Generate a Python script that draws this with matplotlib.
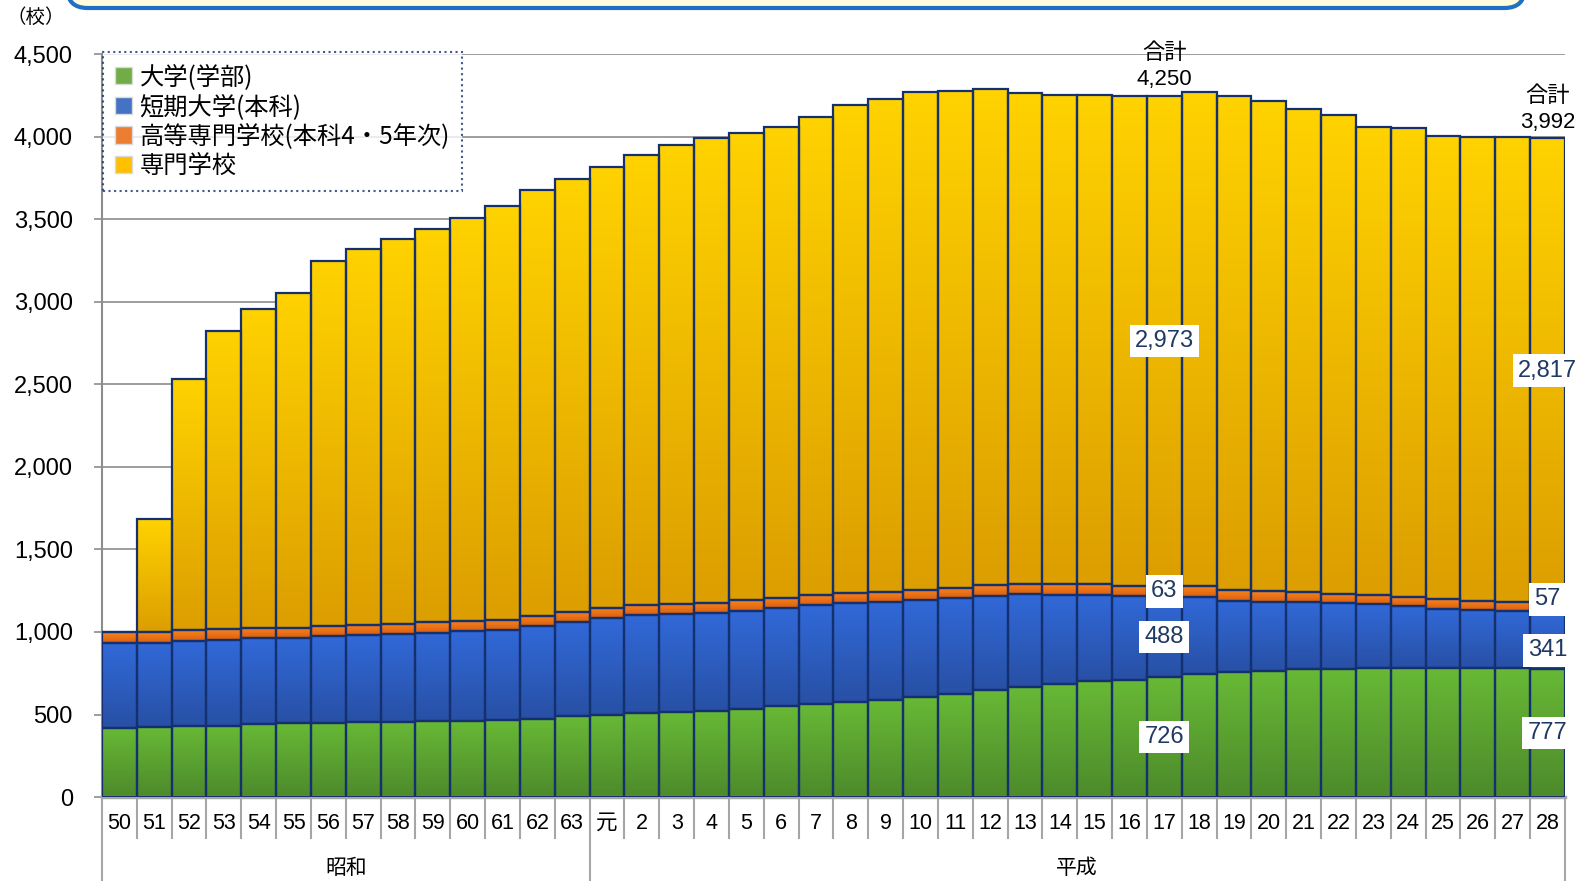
import numpy as np
import matplotlib
matplotlib.use("Agg")
import matplotlib.pyplot as plt
import matplotlib.transforms as mtransforms
from matplotlib.colors import LinearSegmentedColormap
from matplotlib.patches import Patch, FancyBboxPatch
from matplotlib.ticker import MultipleLocator, FuncFormatter

plt.rcParams['font.family'] = ['Liberation Sans', 'Noto Sans CJK JP']

# 年度 (昭和50～63, 平成元～28)
years = ['50', '51', '52', '53', '54', '55', '56', '57', '58', '59', '60', '61', '62', '63',
         '元', '2', '3', '4', '5', '6', '7', '8', '9', '10', '11', '12', '13', '14',
         '15', '16', '17', '18', '19', '20', '21', '22', '23', '24', '25', '26', '27', '28']
eras = ['昭和', '平成']
era_len = [14, 28]

# 学校数
univ = [420, 423, 431, 433, 443, 446, 451, 455, 457, 460, 460, 465, 474, 490,
        499, 507, 514, 523, 534, 552, 565, 576, 586, 604, 622, 649, 669, 686,
        702, 709, 726, 744, 756, 765, 773, 778, 780, 783, 782, 781, 779, 777]
junior = [513, 511, 515, 519, 518, 517, 523, 526, 532, 536, 543, 548, 561, 571,
          584, 593, 592, 591, 595, 593, 596, 598, 595, 588, 585, 572, 559, 541,
          525, 508, 488, 468, 434, 417, 406, 395, 387, 372, 359, 352, 346, 341]
kosen = [65, 65, 65, 65, 65, 62, 62, 62, 62, 62, 62, 62, 62, 62,
         62, 62, 63, 63, 62, 62, 62, 62, 62, 62, 62, 62, 62, 62,
         63, 63, 63, 64, 64, 64, 64, 58, 57, 57, 57, 57, 57, 57]
senmon = [0, 684, 1519, 1806, 1931, 2030, 2214, 2280, 2327, 2381, 2441, 2504, 2580, 2621,
          2672, 2728, 2782, 2817, 2833, 2854, 2899, 2959, 2983, 3020, 3011, 3004, 2978, 2967,
          2962, 2966, 2973, 2996, 2994, 2969, 2926, 2903, 2836, 2844, 2809, 2811, 2819, 2817]

names = ['大学(学部)', '短期大学(本科)', '高等専門学校(本科4・5年次)', '専門学校']
legend_colors = ['#70ad47', '#4472c4', '#ed7d31', '#ffc000']
grad_colors = [('#4d8a2b', '#68b936'), ('#2850a5', '#3169d8'),
               ('#dc5e0e', '#f7851f'), ('#dc9e00', '#ffd200')]
edge = '#14306e'
navy = '#1f3864'

fig = plt.figure(figsize=(15.79, 8.81), dpi=100)
ax = fig.add_axes([0.0646, 0.0953, 0.9265, 0.8431])

n = len(years)
x = np.arange(n)


def fill_gradient(bars, c_bottom, c_top):
    cmap = LinearSegmentedColormap.from_list('g', [c_bottom, c_top])
    grad = np.linspace(0, 1, 128).reshape(-1, 1)
    for b in bars:
        h = b.get_height()
        if h <= 0:
            continue
        x0, y0 = b.get_x(), b.get_y()
        im = ax.imshow(grad, cmap=cmap, origin='lower', aspect='auto',
                       extent=(x0, x0 + b.get_width(), y0, y0 + h),
                       zorder=2.5, interpolation='bilinear')
        im.set_clip_path(b)


series = [univ, junior, kosen, senmon]
bottom = np.zeros(n)
for vals, (c0, c1) in zip(series, grad_colors):
    vals = np.array(vals)
    bars = ax.bar(x, vals, width=1.0, bottom=bottom, color=c1, linewidth=0, zorder=2)
    fill_gradient(bars, c0, c1)
    ax.bar(x, vals, width=1.0, bottom=bottom, fill=False, edgecolor=edge,
           linewidth=1.6, zorder=3)
    bottom += vals
totals = bottom

ax.set_xlim(-0.5, n - 0.5)
ax.set_ylim(0, 4500)
ax.yaxis.set_major_locator(MultipleLocator(500))
ax.yaxis.set_major_formatter(FuncFormatter(lambda v, p: f'{int(v):,}'))
ax.yaxis.grid(True, color='#8c8c8c', linewidth=1.2)
ax.set_axisbelow(True)
ax.tick_params(axis='y', labelsize=17, length=6, width=1.2, color='#8c8c8c', pad=15)

ax.set_xticks(x, years)
ax.tick_params(axis='x', labelsize=15.5, length=0, pad=11.5)

for s in ['top', 'right']:
    ax.spines[s].set_visible(False)
ax.spines['bottom'].set_color('#a6a6a6')
ax.spines['bottom'].set_linewidth(2.5)
ax.spines['left'].set_color('#8c8c8c')
ax.spines['left'].set_linewidth(1.5)

# 区切り線 (2段の横軸)
trans = mtransforms.blended_transform_factory(ax.transData, ax.transAxes)
bounds = np.cumsum([0] + era_len) - 0.5
for b in np.arange(n + 1) - 0.5:
    depth = -0.1131 if b in bounds else -0.0552
    ax.plot([b, b], [0, depth], transform=trans, color='#a6a6a6', lw=1.5,
            clip_on=False, zorder=1)
for era, lo, hi in zip(eras, bounds[:-1], bounds[1:]):
    ax.text((lo + hi) / 2, -0.096, era, transform=trans, ha='center', va='center',
            fontsize=15)

# データラベル
def seg_labels(i, offsets):
    base = 0
    for vals, off in zip(series, offsets):
        v = vals[i]
        ax.annotate(f'{v:,}', (i, base + v / 2), xytext=(0, off), textcoords='offset points',
                    ha='center', va='center', fontsize=17, color=navy, zorder=5,
                    bbox=dict(boxstyle='square,pad=0.22', fc='white', ec='none'),
                    annotation_clip=False)
        base += v


seg_labels(30, [0, 0, 0, 0])
seg_labels(41, [0, -7, 6, 0])

for i in [30, 41]:
    ax.annotate(f'合計\n{int(totals[i]):,}', (i, totals[i]), xytext=(0, 4),
                textcoords='offset points', ha='center', va='bottom', fontsize=16,
                linespacing=1.3, annotation_clip=False)

handles = [Patch(facecolor=c, edgecolor='#d9d9d9') for c in legend_colors]
leg = ax.legend(handles, names, loc='upper left', bbox_to_anchor=(0.0005, 1.003),
                prop={'family': ['Noto Sans CJK JP'], 'size': 17.5},
                frameon=True, fancybox=False, edgecolor=edge,
                handlelength=0.72, handleheight=0.72, handletextpad=0.3,
                labelspacing=0.15, borderpad=0.5, borderaxespad=0)
leg.get_frame().set_linestyle(':')
leg.get_frame().set_linewidth(1.5)
leg.set_zorder(6)

fig.text(0.004, 1 - 18 / 881, '（校）', fontsize=14, va='center', ha='left')

top_box = FancyBboxPatch((67 / 1579, 1 - 8 / 881), (1525 - 67) / 1579, 0.1,
                         boxstyle='round,pad=0,rounding_size=0.013',
                         mutation_aspect=1579 / 881, transform=fig.transFigure,
                         ec='#1f6fc5', fc='#fffbdc', lw=3, clip_on=False)
fig.patches.append(top_box)

fig.savefig('out.png', dpi=100)
